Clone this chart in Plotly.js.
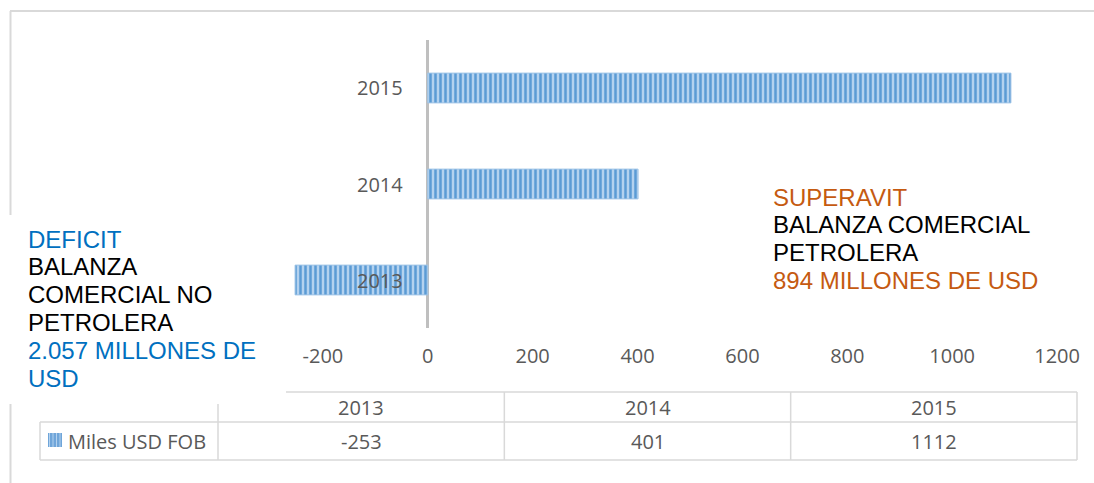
<!DOCTYPE html>
<html>
<head>
<meta charset="utf-8">
<script src="https://cdn.plot.ly/plotly-3.0.1.min.js"></script>
<style>html,body{margin:0;padding:0;background:#fff;}#chart{width:1094px;height:483px;}</style>
</head>
<body>
<div id="chart"></div>
<script>
// ---- data ----
const years = ['2013', '2014', '2015'];
const values = [-253, 401, 1112];
const seriesName = 'Miles USD FOB';
const xTickVals = [-200, 0, 200, 400, 600, 800, 1000, 1200];
const leftNoteLines = ['DEFICIT', 'BALANZA', 'COMERCIAL NO', 'PETROLERA', '2.057 MILLONES DE', 'USD'];
const leftNoteColors = ['#0070c0', '#000000', '#000000', '#000000', '#0070c0', '#0070c0'];
const rightNoteLines = ['SUPERAVIT', 'BALANZA COMERCIAL', 'PETROLERA', '894 MILLONES DE USD'];
const rightNoteColors = ['#c55a11', '#000000', '#000000', '#c55a11'];

// ---- layout helpers (pixel -> paper) ----
const W = 1094, H = 483;
const px = v => v / W;
const py = v => 1 - v / H;
const grey = '#595959';
const lineC = '#d9d9d9';
const chartFont = 'Open Sans, sans-serif';
const noteFont = 'Liberation Sans, Arial, sans-serif';

const plotL = 218, plotR = 1077, plotT = 40, plotB = 328;

const trace = {
  type: 'bar',
  orientation: 'h',
  x: values,
  y: years,
  name: seriesName,
  width: 0.31,
  marker: {
    color: '#a9cbec',
    pattern: { shape: '|', fgcolor: '#5b9bd5', bgcolor: '#b4d2ef', size: 5, solidity: 0.5 },
    line: { color: '#9dc3e6', width: 1 }
  },
  hoverinfo: 'none'
};

const shapes = [];
const line = (x0, y0, x1, y1, w) => shapes.push({
  type: 'line', xref: 'paper', yref: 'paper',
  x0: px(x0), y0: py(y0), x1: px(x1), y1: py(y1),
  line: { color: lineC, width: w || 1.5 }
});
// outer frame
line(10.5, 11, 10.5, 483, 2);
line(10, 11, 1094, 11, 2);
// data table
const colW = (plotR - plotL) / years.length;
const hdrT = 392, rowT = 422, rowB = 460, tblL = 40;
line(plotL, hdrT, plotR, hdrT);
line(tblL, rowT, plotR, rowT);
line(tblL, rowB, plotR, rowB);
line(tblL, rowT, tblL, rowB);
for (let i = 0; i <= years.length; i++) {
  const xx = plotL + i * colW;
  line(xx, hdrT, xx, rowB);
}
// legend key in table
shapes.push({ type: 'rect', xref: 'paper', yref: 'paper',
  x0: px(48), x1: px(62), y0: py(447), y1: py(433),
  fillcolor: '#6fa5d9', line: { width: 0 } });
for (let k = 0; k < 4; k++) {
  shapes.push({ type: 'line', xref: 'paper', yref: 'paper',
    x0: px(49.5 + k * 3.5), x1: px(49.5 + k * 3.5), y0: py(447), y1: py(433),
    line: { color: '#b4d2ef', width: 1 } });
}
// white text box on the left (covers frame and table corner)
shapes.push({ type: 'rect', xref: 'paper', yref: 'paper', layer: 'above',
  x0: 0, x1: px(286), y0: py(404), y1: py(215),
  fillcolor: '#ffffff', line: { width: 0 } });

const annotations = [];
// category labels next to the zero line
years.forEach((y, i) => annotations.push({
  xref: 'x', yref: 'y', x: 0, y: i, text: y, showarrow: false,
  xanchor: 'right', yanchor: 'middle', xshift: -23,
  font: { family: chartFont, size: 20, color: grey }
}));
// table header and values
years.forEach((y, i) => {
  const cx = plotL + (i + 0.5) * colW;
  annotations.push({ xref: 'paper', yref: 'paper', x: px(cx), y: py(407), text: y,
    showarrow: false, xanchor: 'center', yanchor: 'middle',
    font: { family: chartFont, size: 20, color: grey } });
  annotations.push({ xref: 'paper', yref: 'paper', x: px(cx), y: py(441), text: String(values[i]),
    showarrow: false, xanchor: 'center', yanchor: 'middle',
    font: { family: chartFont, size: 20, color: grey } });
});
annotations.push({ xref: 'paper', yref: 'paper', x: px(66), y: py(441), text: seriesName,
  showarrow: false, xanchor: 'left', yanchor: 'middle',
  font: { family: chartFont, size: 20, color: grey } });
// notes
leftNoteLines.forEach((t, i) => annotations.push({
  xref: 'paper', yref: 'paper', x: px(26), y: py(239 + i * 27.8), text: t,
  showarrow: false, xanchor: 'left', yanchor: 'middle',
  font: { family: noteFont, size: 24, color: leftNoteColors[i] }
}));
rightNoteLines.forEach((t, i) => annotations.push({
  xref: 'paper', yref: 'paper', x: px(771), y: py(197 + i * 27.8), text: t,
  showarrow: false, xanchor: 'left', yanchor: 'middle',
  font: { family: noteFont, size: 24, color: rightNoteColors[i] }
}));

const layout = {
  width: W, height: H,
  margin: { l: 0, r: 0, t: 0, b: 0 },
  paper_bgcolor: '#ffffff', plot_bgcolor: 'rgba(0,0,0,0)',
  showlegend: false,
  font: { family: chartFont, color: grey },
  xaxis: {
    domain: [px(plotL), px(plotR)],
    range: [-400, 1238],
    tickvals: xTickVals,
    ticktext: xTickVals.map(String),
    showgrid: false,
    zeroline: true, zerolinecolor: '#bfbfbf', zerolinewidth: 3,
    showline: false,
    ticks: 'outside', ticklen: 10, tickcolor: 'rgba(0,0,0,0)',
    tickfont: { family: chartFont, size: 20, color: grey },
    fixedrange: true
  },
  yaxis: {
    domain: [py(plotB), py(plotT)],
    type: 'category',
    categoryorder: 'array', categoryarray: years,
    range: [-0.5, years.length - 0.5],
    autorange: false,
    showticklabels: false, showgrid: false, zeroline: false, showline: false, ticks: '',
    fixedrange: true
  },
  shapes: shapes,
  annotations: annotations
};

Plotly.newPlot('chart', [trace], layout, { staticPlot: true, displayModeBar: false });
</script>
</body>
</html>
